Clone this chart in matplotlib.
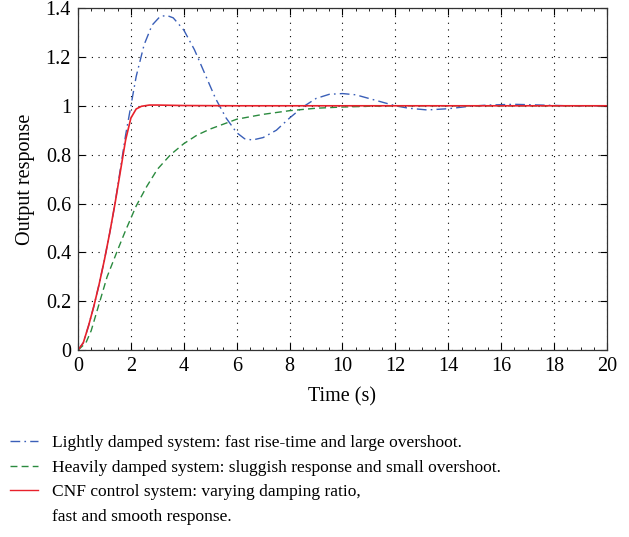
import matplotlib.pyplot as plt
from matplotlib.lines import Line2D
from matplotlib.ticker import MultipleLocator

plt.rcParams["font.family"] = ["Liberation Serif", "DejaVu Serif"]

# Lightly damped system
t_light = [0, 0.2, 0.4, 0.6, 0.8, 1.0, 1.2, 1.4, 1.6, 1.8, 2.0, 2.2, 2.5, 2.8, 3.1, 3.35, 3.6, 4.0,
           4.4, 4.8, 5.2, 5.6, 6.0, 6.3, 6.6, 7.0, 7.5, 8.0, 8.5, 9.0, 9.5, 10.0, 10.5, 11.0, 11.5,
           12.0, 12.5, 13.2, 14.0, 14.8, 15.5, 16.5, 17.5, 18.5, 20.0]
y_light = [0, 0.03, 0.1, 0.18, 0.27, 0.37, 0.48, 0.6, 0.74, 0.88, 1.0, 1.12, 1.25, 1.33, 1.365, 1.37,
           1.36, 1.31, 1.23, 1.13, 1.03, 0.95, 0.89, 0.865, 0.86, 0.87, 0.9, 0.95, 0.995, 1.03,
           1.047, 1.05, 1.045, 1.03, 1.015, 1.0, 0.99, 0.983, 0.988, 0.998, 1.003, 1.006, 1.003,
           1.0, 1.0]

# Heavily damped system
t_heavy = [0, 0.3, 0.5, 0.8, 1.1, 1.5, 1.8, 2.2, 2.6, 3.0, 3.5, 4.0, 4.5, 5.0, 5.5, 6.0, 7.0,
           8.0, 9.0, 10.0, 11.0, 12.0, 14.0, 16.0, 20.0]
y_heavy = [0, 0.03, 0.08, 0.19, 0.3, 0.41, 0.49, 0.59, 0.67, 0.74, 0.8, 0.845, 0.88, 0.905, 0.925,
           0.945, 0.965, 0.98, 0.99, 0.995, 0.998, 1.0, 1.0, 1.0, 1.0]

# CNF control system
t_cnf = [0, 0.2, 0.4, 0.6, 0.8, 1.0, 1.2, 1.4, 1.6, 1.8, 2.0, 2.2, 2.4, 2.7, 3.0, 4.0, 6.0, 10.0, 20.0]
y_cnf = [0, 0.03, 0.1, 0.18, 0.27, 0.37, 0.48, 0.6, 0.73, 0.86, 0.95, 0.987, 0.998, 1.003, 1.003,
         1.001, 1.0, 1.0, 1.0]

labels = [
    "Lightly damped system: fast rise-time and large overshoot.",
    "Heavily damped system: sluggish response and small overshoot.",
    "CNF control system: varying damping ratio,",
    "fast and smooth response.",
]

fig = plt.figure(figsize=(6.29, 5.37), dpi=100)
ax = fig.add_axes([0.124, 0.348, 0.841, 0.637])

blue = "#3a5fb8"
green = "#2a8a3e"
red = "#e8212b"
dashdot = (0, (7, 3, 1.2, 3))

ax.plot(t_light, y_light, color=blue, linestyle=dashdot, linewidth=1.0)
ax.plot(t_heavy, y_heavy, color=green, linestyle=(0, (5, 3)), linewidth=1.0)
ax.plot(t_cnf, y_cnf, color=red, linestyle="-", linewidth=1.2)

ax.set_xlim(0, 20)
ax.set_ylim(0, 1.4)
ax.set_xticks(range(0, 21, 2))
ax.set_yticks([0, 0.2, 0.4, 0.6, 0.8, 1.0, 1.2, 1.4])
ax.set_yticklabels(["0", "0.2", "0.4", "0.6", "0.8", "1", "1.2", "1.4"])
ax.xaxis.set_minor_locator(MultipleLocator(0.5))
ax.tick_params(direction="in", top=True, right=True, labelsize=14.5, length=5, width=0.8, pad=5)
ax.tick_params(which="minor", direction="in", top=True, length=2.5, width=0.6)
ax.grid(True, color="black", linestyle=(0, (1, 5)), linewidth=0.8)
for s in ax.spines.values():
    s.set_linewidth(0.9)
    s.set_color("#333333")

ax.set_xlabel("Time (s)", fontsize=14.5, labelpad=8)
ax.set_ylabel("Output response", fontsize=14.5, labelpad=8)

# legend below the plot; the last entry is the second line of the CNF label
handles = [
    Line2D([], [], color=blue, linestyle=dashdot, linewidth=1.0),
    Line2D([], [], color=green, linestyle=(0, (5, 3)), linewidth=1.0),
    Line2D([], [], color=red, linestyle="-", linewidth=1.0),
    Line2D([], [], color="none"),
]
fig.legend(handles, labels, loc="upper left", bbox_to_anchor=(-0.003, 0.212),
           frameon=False, fontsize=12.5, handlelength=1.6, handletextpad=0.8,
           labelspacing=0.48, borderaxespad=0.3)

plt.savefig("out.png", dpi=100)
